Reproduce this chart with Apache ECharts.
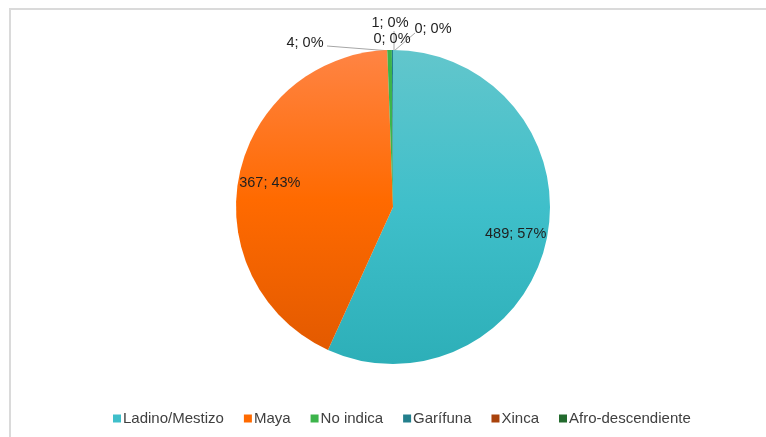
<!DOCTYPE html>
<html>
<head>
<meta charset="utf-8">
<script src="https://cdn.jsdelivr.net/npm/echarts@6/dist/echarts.min.js"></script>
<style>
  html, body { margin: 0; padding: 0; background: #fff; }
  #frame { position: absolute; left: 9px; top: 8px; width: 800px; height: 480px; border-top: 2px solid #dadada; border-left: 2px solid #dadada; }
  #main { position: absolute; left: 0; top: 0; width: 766px; height: 437px; }
</style>
</head>
<body>
<div id="frame"></div>
<div id="main"></div>
<script>
const categories = ['Ladino/Mestizo', 'Maya', 'No indica', 'Garífuna', 'Xinca', 'Afro-descendiente']
const values = [489, 367, 4, 1, 0, 0]
const colors = ['#3fbfca', '#ff6a00', '#3cb44b', '#237f8c', '#a9420c', '#236b2e']
const topColors = ['#62c6cc', '#ff8444', '#3cb44b', '#237f8c', '#a9420c', '#236b2e']
const bottomColors = ['#2dafb8', '#e35a00', '#3cb44b', '#237f8c', '#a9420c', '#236b2e']

const chart = echarts.init(document.getElementById('main'))

const center = [393, 207]
const radius = 157
const font = 'Liberation Sans, Arial'

// label offsets for the tiny slices, relative to the top of the pie
// [label dx, label dy, line start dx, line start dy]
const smallLabelPos = {
    2: [-88, -7, -66, -4],
    3: [-3, -27, 1, -19],
    4: [-1, -11, 0, 0],
    5: [40, -21, 22, -17],
}

const pieData = categories.map((name, i) => ({
    name,
    value: values[i],
    itemStyle: {
        color: new echarts.graphic.LinearGradient(0, 0, 0, 1, [
            { offset: 0, color: topColors[i] },
            { offset: 0.5, color: colors[i] },
            { offset: 1, color: bottomColors[i] },
        ]),
    },
    label: i < 2 ? { position: 'inside' } : { position: 'outside' },
    labelLine: { show: i !== 4 },
}))

chart.setOption({
    animation: false,
    legend: {
        data: categories.map((name, i) => ({ name, itemStyle: { color: colors[i] } })),
        top: 406,
        left: 108,
        itemWidth: 8,
        itemHeight: 8,
        itemGap: 20,
        icon: 'rect',
        textStyle: { fontFamily: font, fontSize: 15, color: '#404040', padding: [0, 0, 0, -3] },
    },
    series: [
        {
            type: 'pie',
            center,
            radius,
            startAngle: 90,
            clockwise: true,
            avoidLabelOverlap: false,
            percentPrecision: 0,
            data: pieData,
            label: {
                formatter: '{c}; {d}%',
                fontFamily: font,
                fontSize: 14.5,
                color: '#1f1f1f',
            },
            labelLine: {
                length: 10,
                length2: 25,
                lineStyle: { color: '#a6a6a6', width: 1 },
            },
            labelLayout(params) {
                const i = params.dataIndex
                const r = params.labelRect
                if (i < 2) {
                    // push the inside labels further out, like the original
                    const lx = r.x + r.width / 2
                    const ly = r.y + r.height / 2
                    const k = 0.54
                    return { dx: (lx - center[0]) * k, dy: (ly - center[1]) * k }
                }
                const tx = center[0]
                const ty = center[1] - radius
                const p = smallLabelPos[i]
                return {
                    x: tx + p[0],
                    y: ty + p[1],
                    align: 'center',
                    verticalAlign: 'middle',
                    labelLinePoints: [[tx + p[2], ty + p[3]], [tx + p[2], ty + p[3]], [tx + (i === 2 ? -2 : 1), ty + 1]],
                }
            },
        },
    ],
})
</script>
</body>
</html>
